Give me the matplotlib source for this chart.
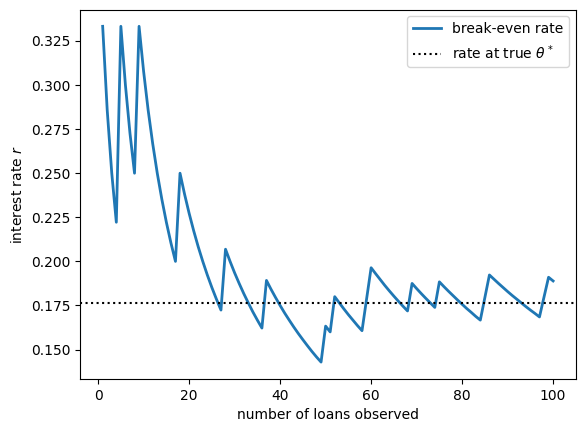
import numpy as np
import matplotlib
matplotlib.use("Agg")
import matplotlib.pyplot as plt

# number of loans observed
n_loans = np.arange(1, 101)

# break-even interest rate
break_even = [
    0.3333, 0.2857, 0.2500, 0.2222, 0.3333, 0.3000, 0.2727, 0.2500, 0.3333, 0.3077,
    0.2857, 0.2667, 0.2500, 0.2353, 0.2222, 0.2105, 0.2000, 0.2500, 0.2381, 0.2273,
    0.2174, 0.2083, 0.2000, 0.1923, 0.1852, 0.1786, 0.1724, 0.2069, 0.2000, 0.1935,
    0.1875, 0.1818, 0.1765, 0.1714, 0.1667, 0.1622, 0.1892, 0.1842, 0.1795, 0.1750,
    0.1707, 0.1667, 0.1628, 0.1591, 0.1556, 0.1522, 0.1489, 0.1458, 0.1429, 0.1633,
    0.1600, 0.1800, 0.1765, 0.1731, 0.1698, 0.1667, 0.1636, 0.1607, 0.1786, 0.1964,
    0.1930, 0.1897, 0.1864, 0.1833, 0.1803, 0.1774, 0.1746, 0.1719, 0.1875, 0.1846,
    0.1818, 0.1791, 0.1765, 0.1739, 0.1884, 0.1857, 0.1831, 0.1806, 0.1781, 0.1757,
    0.1733, 0.1711, 0.1688, 0.1667, 0.1795, 0.1923, 0.1899, 0.1875, 0.1852, 0.1829,
    0.1807, 0.1786, 0.1765, 0.1744, 0.1724, 0.1705, 0.1685, 0.1798, 0.1910, 0.1889,
]

true_rate = 0.1765

fig, ax = plt.subplots(figsize=(5.85, 4.33), dpi=100)
fig.subplots_adjust(left=0.137, right=0.984, top=0.978, bottom=0.125)

ax.plot(n_loans, break_even, color='#1f77b4', linewidth=2, label='break-even rate')
ax.axhline(true_rate, color='black', linestyle=':', linewidth=1.5,
           label=r'rate at true $\theta^*$')

ax.set_xlabel('number of loans observed')
ax.set_ylabel('interest rate $r$')
ax.legend(loc='upper right')

fig.savefig('out.png', dpi=100)
